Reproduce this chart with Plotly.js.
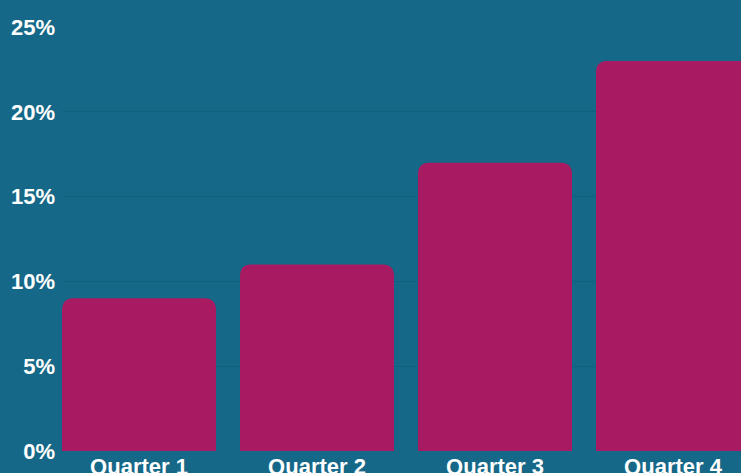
<!DOCTYPE html>
<html>
<head>
<meta charset="utf-8">
<script src="https://cdn.plot.ly/plotly-3.0.1.min.js"></script>
<style>html,body{margin:0;padding:0;background:#166888;}#chart{width:741px;height:473px;}</style>
</head>
<body>
<div id="chart"></div>
<script>
const categories = ["Quarter 1", "Quarter 2", "Quarter 3", "Quarter 4"];
const values = [0.09, 0.11, 0.17, 0.23];
const yTickValues = [0, 0.05, 0.10, 0.15, 0.20, 0.25];
const yTickLabels = ["0%", "5%", "10%", "15%", "20%", "25%"];

const bg = "#166888";
const trace = {
  type: "bar",
  x: categories,
  y: values,
  width: 0.865,
  marker: { color: "#A81A62", line: { width: 0 } },
  hoverinfo: "none"
};
const layout = {
  width: 741, height: 473,
  margin: { l: 62, r: 0, t: 27, b: 22, pad: 0 },
  paper_bgcolor: bg, plot_bgcolor: bg,
  barcornerradius: 10,
  showlegend: false,
  font: { family: "Liberation Sans, Arial, sans-serif", color: "#ffffff", size: 22 },
  xaxis: {
    type: "category",
    range: [-0.4326, 3.382],
    showgrid: false, zeroline: false, showline: false,
    ticks: "", ticklabelstandoff: 0,
    tickfont: { family: "Liberation Sans, Arial, sans-serif", size: 22, color: "#ffffff", weight: "bold" }
  },
  yaxis: {
    range: [0, 0.25],
    tickvals: yTickValues, ticktext: yTickLabels,
    showgrid: true, gridcolor: "#13607e", gridwidth: 1,
    zeroline: false, showline: false, ticks: "",
    ticklabelstandoff: 6,
    tickfont: { family: "Liberation Sans, Arial, sans-serif", size: 22, color: "#ffffff", weight: "bold" }
  }
};
Plotly.newPlot("chart", [trace], layout, { staticPlot: true, displayModeBar: false });
</script>
</body>
</html>
